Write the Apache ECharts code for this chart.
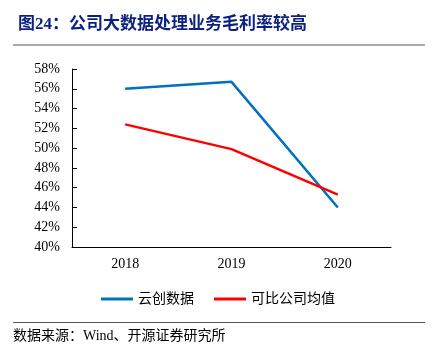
<!DOCTYPE html>
<html><head><meta charset="utf-8">
<script src="https://cdn.jsdelivr.net/npm/echarts@6/dist/echarts.min.js"></script>
<style>html,body{margin:0;padding:0;background:#fff}#c{width:438px;height:356px}</style>
</head><body><div id="c"></div>
<script>
const categories = ['2018', '2019', '2020'];
const seriesNames = ['云创数据', '可比公司均值'];
const yunchuang = [56.0, 56.7, 44.0];
const peers = [52.4, 49.9, 45.3];
const yTicks = [40, 42, 44, 46, 48, 50, 52, 54, 56, 58];

const serif = '"Liberation Serif","Noto Sans CJK SC",serif';
const chart = echarts.init(document.getElementById('c'));
chart.setOption({
  animation: false,
  backgroundColor: '#fff',
  title: {
    text: '图24：公司大数据处理业务毛利率较高',
    left: 13, top: 11,
    textStyle: { fontFamily: serif, fontSize: 17, fontWeight: 'bold', color: '#0c1f82' }
  },
  graphic: [
    { type: 'line', shape: { x1: 13, y1: 45, x2: 425, y2: 45 }, style: { stroke: '#8c8c8c', lineWidth: 1.5 } },
    { type: 'line', shape: { x1: 13, y1: 322.5, x2: 425, y2: 322.5 }, style: { stroke: '#555', lineWidth: 1 } },
    { type: 'text', left: 13, top: 329, style: { text: '数据来源：Wind、开源证券研究所', font: '14px ' + serif, fill: '#000' } }
  ],
  legend: {
    top: 287, left: 96,
    itemWidth: 32, itemHeight: 3, itemGap: 20,
    icon: 'rect',
    textStyle: { fontFamily: serif, fontSize: 14, color: '#000' },
    data: seriesNames
  },
  grid: { left: 72, right: 47, top: 69, bottom: 109 },
  xAxis: {
    type: 'category', data: categories, boundaryGap: true,
    axisLine: { lineStyle: { color: '#000', width: 1 } },
    axisTick: { inside: true, length: 5, lineStyle: { color: '#000' } },
    axisLabel: { fontFamily: serif, fontSize: 14, color: '#000', margin: 10 }
  },
  yAxis: {
    type: 'value', min: 40, max: 58, interval: 2,
    splitLine: { show: false },
    axisLine: { show: true, lineStyle: { color: '#000', width: 1 } },
    axisTick: { show: true, inside: true, length: 5, lineStyle: { color: '#000' } },
    axisLabel: { fontFamily: serif, fontSize: 14, color: '#000', margin: 12,
      formatter: v => yTicks.includes(v) ? v + '%' : '' }
  },
  series: [
    { name: seriesNames[0], type: 'line', data: yunchuang, symbol: 'none',
      lineStyle: { color: '#0070C0', width: 2.5 }, itemStyle: { color: '#0070C0' } },
    { name: seriesNames[1], type: 'line', data: peers, symbol: 'none',
      lineStyle: { color: '#FF0000', width: 2.5 }, itemStyle: { color: '#FF0000' } }
  ]
});
</script></body></html>
